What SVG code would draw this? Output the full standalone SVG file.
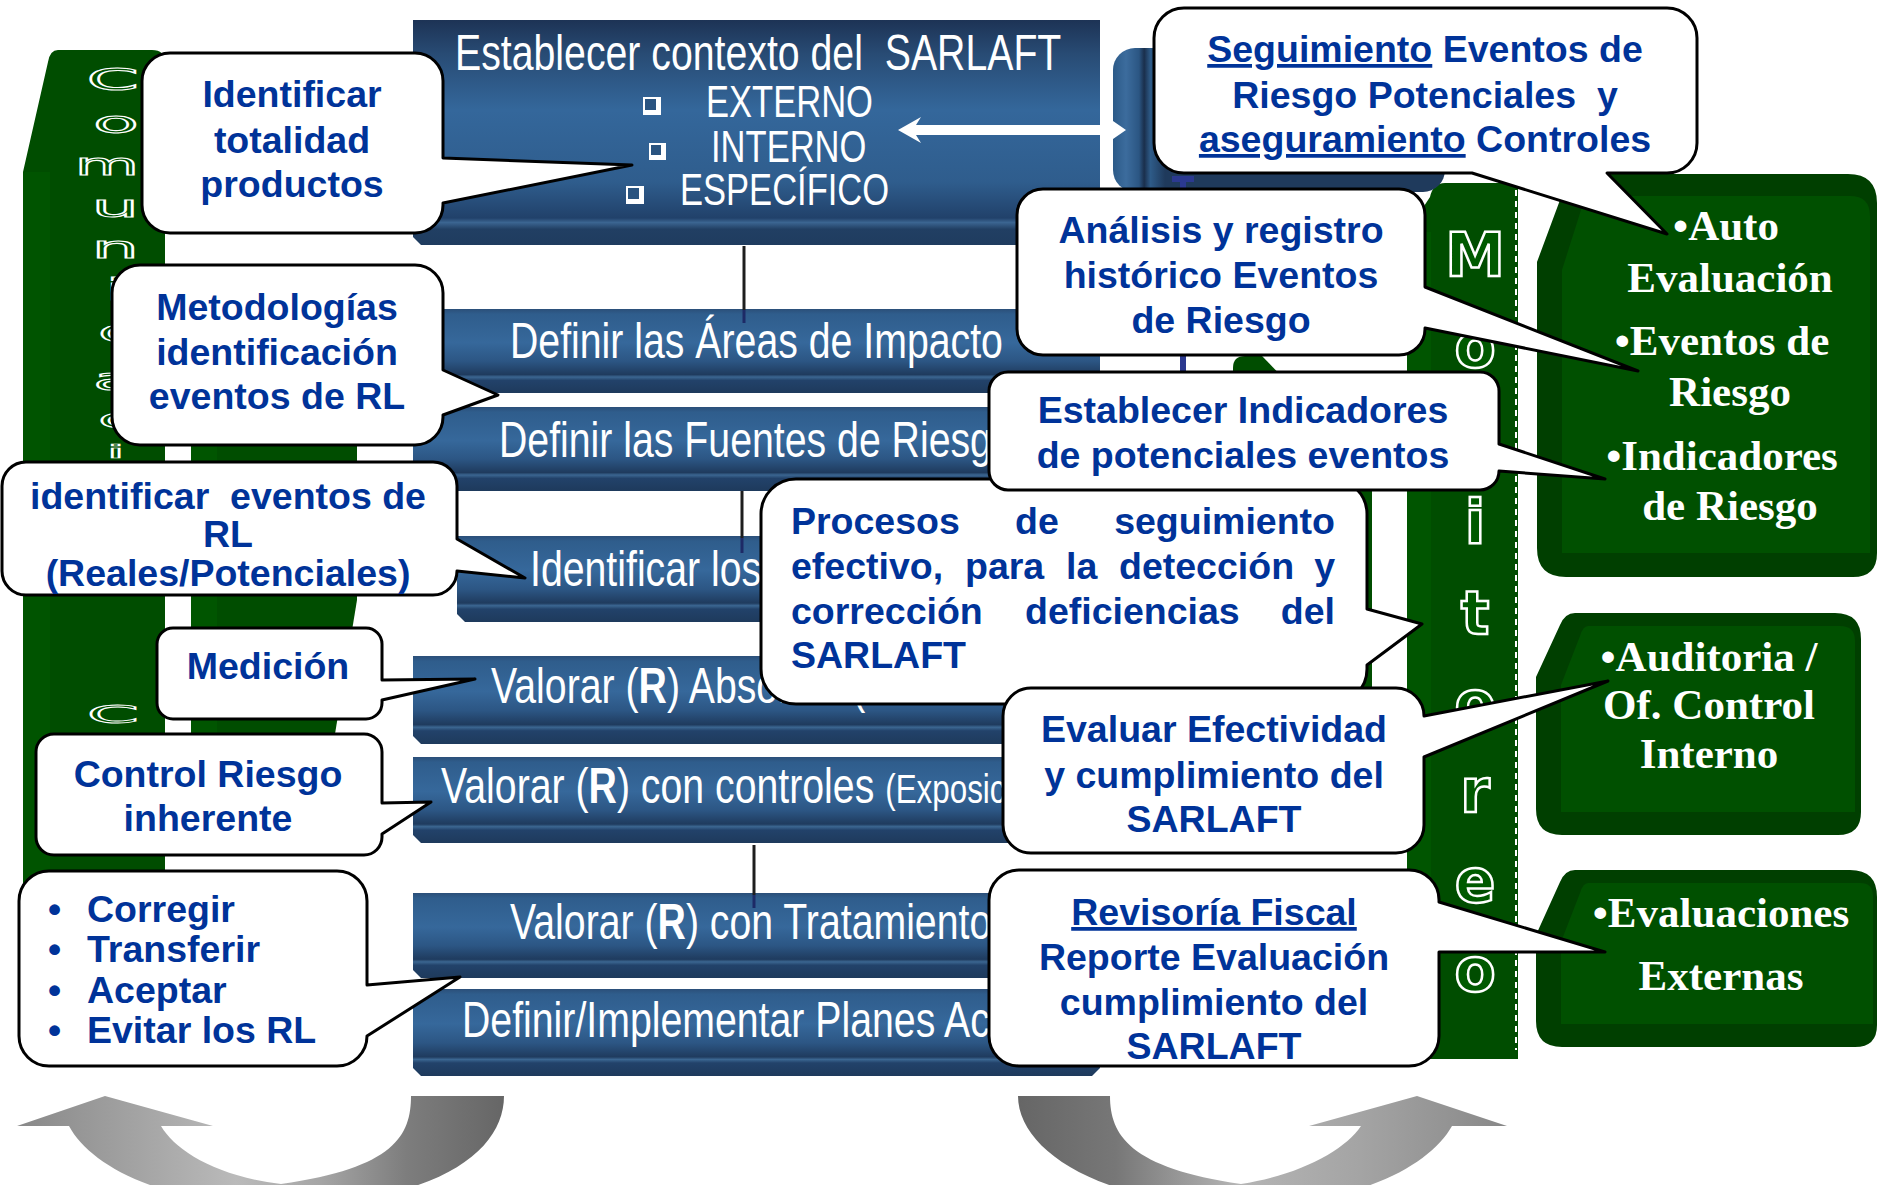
<svg xmlns="http://www.w3.org/2000/svg" width="1877" height="1185" viewBox="0 0 1877 1185">
<defs>
  <linearGradient id="barG" x1="0" y1="0" x2="0" y2="1">
    <stop offset="0" stop-color="#2b4f79"/>
    <stop offset="0.06" stop-color="#2f5d8c"/>
    <stop offset="0.4" stop-color="#36689b"/>
    <stop offset="0.62" stop-color="#2c5684"/>
    <stop offset="0.78" stop-color="#1f3b5e"/>
    <stop offset="0.81" stop-color="#3b6691"/>
    <stop offset="0.85" stop-color="#22426a"/>
    <stop offset="1" stop-color="#1e3a5c"/>
  </linearGradient>
  <linearGradient id="topG" x1="0" y1="0" x2="0" y2="1">
    <stop offset="0" stop-color="#1d3355"/>
    <stop offset="0.15" stop-color="#284b74"/>
    <stop offset="0.4" stop-color="#34679b"/>
    <stop offset="0.72" stop-color="#2f5d8d"/>
    <stop offset="0.88" stop-color="#21416a"/>
    <stop offset="0.9" stop-color="#3b6591"/>
    <stop offset="0.93" stop-color="#213f63"/>
    <stop offset="1" stop-color="#1f3c5f"/>
  </linearGradient>
  <linearGradient id="blueSide" gradientUnits="userSpaceOnUse" x1="1113" y1="0" x2="1165" y2="0">
    <stop offset="0" stop-color="#2c5a88"/>
    <stop offset="0.25" stop-color="#3c6c9d"/>
    <stop offset="0.5" stop-color="#2b5683"/>
    <stop offset="0.6" stop-color="#1a2f4c"/>
    <stop offset="0.72" stop-color="#2e5b88"/>
    <stop offset="1" stop-color="#1f3a5c"/>
  </linearGradient>
  <linearGradient id="arrL" gradientUnits="userSpaceOnUse" x1="17" y1="0" x2="504" y2="0">
    <stop offset="0" stop-color="#888"/>
    <stop offset="0.45" stop-color="#bababa"/>
    <stop offset="0.62" stop-color="#a6a6a6"/>
    <stop offset="0.8" stop-color="#7d7d7d"/>
    <stop offset="1" stop-color="#666"/>
  </linearGradient>
  <linearGradient id="arrR" gradientUnits="userSpaceOnUse" x1="1018" y1="0" x2="1507" y2="0">
    <stop offset="0" stop-color="#666"/>
    <stop offset="0.2" stop-color="#777"/>
    <stop offset="0.45" stop-color="#b5b5b5"/>
    <stop offset="0.7" stop-color="#a4a4a4"/>
    <stop offset="1" stop-color="#888"/>
  </linearGradient>
</defs>
<style>
  .co { fill:#fff; stroke:#000; stroke-width:3; stroke-linejoin:round; }
  .ct { font-family:"Liberation Sans", Arial, sans-serif; font-weight:bold; font-size:37.5px; fill:#003399; text-anchor:middle; }
  .cj { font-family:"Liberation Sans", Arial, sans-serif; font-weight:bold; font-size:37.5px; fill:#003399; }
  .cb { font-family:"Liberation Sans", Arial, sans-serif; font-weight:bold; font-size:37.5px; fill:#003399; }
  .bt { font-family:"Liberation Sans", Arial, sans-serif; font-size:50px; fill:#fff; }
  .bs { font-family:"Liberation Sans", Arial, sans-serif; font-size:44px; fill:#fff; }
  .gt { font-family:"Liberation Serif", "Times New Roman", serif; font-weight:bold; font-size:43px; fill:#fff; text-anchor:middle; }
  .ml { font-family:"DejaVu Sans", Verdana, sans-serif; font-weight:bold; font-size:60px; fill:#005a00; stroke:#fff; stroke-width:2.5; text-anchor:middle; }
  .cl { font-family:"DejaVu Sans", Verdana, sans-serif; font-size:30px; fill:#005000; stroke:#fff; stroke-width:1.1; text-anchor:end; vector-effect:non-scaling-stroke; }
  .gOut { fill:#003f00; }
  .gIn { fill:#005000; }
  .boxW { fill:#fff; }
  .boxD { fill:#2a5480; }
</style>

<rect width="1877" height="1185" fill="#fff"/>

<!-- background green columns -->
<g id="comunicacion-column">
  <path d="M58,50 H152 Q165,50 165,63 V905 H23 V172 L48,62 Q50,50 58,50 Z" fill="#004d00"/>
  <rect x="23" y="172" width="27" height="733" fill="#005400"/>
  <path d="M191,272 H357 V600 L334,740 H191 Z" fill="#004d00"/>
  <rect x="191" y="272" width="26" height="468" fill="#005500"/>
  <g class="cl">
    <text transform="translate(139,90) scale(2.5,1)">C</text>
    <text transform="translate(139,133) scale(2.5,1)">o</text>
    <text transform="translate(139,175) scale(2.2,1)">m</text>
    <text transform="translate(139,217) scale(2.5,1)">u</text>
    <text transform="translate(139,258) scale(2.5,1)">n</text>
    <text transform="translate(126,300) scale(2.5,1)">i</text>
    <text transform="translate(139,342) scale(2.5,1)">c</text>
    <text transform="translate(139,390) scale(2.5,1)">a</text>
    <text transform="translate(139,428) scale(2.5,0.9)">c</text>
    <text transform="translate(126,458) scale(2.5,0.6)">i</text>
    <text transform="translate(139,723) scale(2.5,0.8)">C</text>
  </g>
</g>

<g id="monitoreo-column">
  <path d="M1245,356 H1262 L1372,470 V700 H1233 V368 Q1233,356 1245,356 Z" fill="#004d00"/>
  <path d="M1445,183 H1518 V1059 H1407 V232 L1430,197 Q1433,183 1445,183 Z" fill="#004d00"/>
  <rect x="1407" y="232" width="24" height="827" fill="#005500"/>
  <line x1="1516" y1="190" x2="1516" y2="1050" stroke="#fff" stroke-width="2" stroke-dasharray="6 5"/>
  <g class="ml">
    <text x="1475" y="276">M</text>
    <text x="1475" y="367">o</text>
    <text x="1475" y="455">n</text>
    <text x="1475" y="543">i</text>
    <text x="1475" y="634">t</text>
    <text x="1475" y="724">o</text>
    <text x="1475" y="812">r</text>
    <text x="1475" y="902">e</text>
    <text x="1475" y="991">o</text>
  </g>
</g>

<!-- green result boxes on the right -->
<g id="box-autoevaluacion">
  <path class="gOut" d="M1575,174 H1848 Q1877,174 1877,203 V553 Q1877,577 1853,577 H1566 Q1537,577 1537,548 V262 L1560,200 Q1566,174 1575,174 Z"/>
  <path class="gIn" d="M1592,196 H1850 Q1870,196 1870,216 V553 H1562 V270 L1581,210 Q1585,196 1592,196 Z"/>
</g>
<g id="box-auditoria">
  <path class="gOut" d="M1575,613 H1835 Q1861,613 1861,639 V812 Q1861,835 1838,835 H1562 Q1536,835 1536,809 V677 L1560,625 Q1565,613 1575,613 Z"/>
  <path class="gIn" d="M1588,626 H1840 Q1855,626 1855,641 V812 H1561 V685 L1580,636 Q1583,626 1588,626 Z"/>
</g>
<g id="box-evaluaciones">
  <path class="gOut" d="M1575,870 H1850 Q1877,870 1877,897 V1025 Q1877,1047 1855,1047 H1562 Q1536,1047 1536,1021 V935 L1560,882 Q1565,870 1575,870 Z"/>
  <path class="gIn" d="M1588,883 H1860 Q1873,883 1873,896 V1024 H1561 V942 L1580,893 Q1583,883 1588,883 Z"/>
</g>

<!-- blue slab behind the follow-up callout -->
<g id="seguimiento-slab">
  <rect x="1113" y="48" width="332" height="144" rx="22" fill="url(#blueSide)"/>
</g>

<!-- process steps -->
<g id="step-contexto">
  <path d="M413,20 H1100 V237 L1092,245 H421 L413,237 Z" fill="url(#topG)"/>
  <text class="bt" transform="translate(455,70) scale(0.785,1)">Establecer contexto del&#160; SARLAFT</text>
  <rect class="boxW" x="643" y="97" width="18" height="18"/>
  <rect class="boxD" x="645" y="99" width="11" height="11"/>
  <text class="bs" transform="translate(706,117) scale(0.785,1)">EXTERNO</text>
  <rect class="boxW" x="649" y="143" width="17" height="17"/>
  <rect class="boxD" x="651" y="145" width="10" height="10"/>
  <text class="bs" transform="translate(711,162) scale(0.785,1)">INTERNO</text>
  <rect class="boxW" x="626" y="186" width="18" height="18"/>
  <rect class="boxD" x="628" y="188" width="11" height="11"/>
  <text class="bs" transform="translate(680,205) scale(0.785,1)">ESPECÍFICO</text>
</g>
<g id="step-areas">
  <path d="M413,309 H1100 V385 L1092,393 H421 L413,385 Z" fill="url(#barG)"/>
  <text class="bt" transform="translate(510,358) scale(0.785,1)">Definir las Áreas de Impacto</text>
</g>
<g id="step-fuentes">
  <path d="M413,407 H1100 V483 L1092,491 H421 L413,483 Z" fill="url(#barG)"/>
  <text class="bt" transform="translate(499,457) scale(0.785,1)">Definir las Fuentes de Riesgo</text>
</g>
<g id="step-identificar">
  <path d="M457,536 H1100 V614 L1092,622 H465 L457,614 Z" fill="url(#barG)"/>
  <text class="bt" transform="translate(530,586) scale(0.785,1)">Identificar los</text>
</g>
<g id="step-absoluto">
  <path d="M413,656 H1100 V736 L1092,744 H421 L413,736 Z" fill="url(#barG)"/>
  <text class="bt" transform="translate(491,703) scale(0.785,1)">Valorar (<tspan font-weight="bold">R</tspan>) Absoluto (</text>
</g>
<g id="step-controles">
  <path d="M413,757 H1100 V835 L1092,843 H421 L413,835 Z" fill="url(#barG)"/>
  <text class="bt" transform="translate(441,803) scale(0.785,1)">Valorar (<tspan font-weight="bold">R</tspan>) con controles <tspan font-size="40">(Exposición)</tspan></text>
</g>
<g id="step-tratamiento">
  <path d="M413,893 H1100 V970 L1092,978 H421 L413,970 Z" fill="url(#barG)"/>
  <text class="bt" transform="translate(510,939) scale(0.785,1)">Valorar (<tspan font-weight="bold">R</tspan>) con Tratamiento</text>
</g>
<g id="step-planes">
  <path d="M413,989 H1100 V1068 L1092,1076 H421 L413,1068 Z" fill="url(#barG)"/>
  <text class="bt" transform="translate(462,1037) scale(0.785,1)">Definir/Implementar Planes Acción</text>
</g>

<!-- connectors -->
<g id="connectors">
  <line x1="744" y1="246" x2="744" y2="310" stroke="#1e1e1e" stroke-width="3"/>
  <line x1="744" y1="310" x2="744" y2="323" stroke="#1d2a66" stroke-width="3"/>
  <line x1="742" y1="491" x2="742" y2="538" stroke="#1e1e1e" stroke-width="3"/>
  <line x1="742" y1="538" x2="742" y2="553" stroke="#1d2a66" stroke-width="3"/>
  <line x1="754" y1="845" x2="754" y2="895" stroke="#1e1e1e" stroke-width="3"/>
  <line x1="754" y1="895" x2="754" y2="908" stroke="#1d2a66" stroke-width="3"/>
  <path d="M1172,176 H1194 V182 H1186 V380 H1180 V182 H1172 Z" fill="#2b3990"/>
  <path d="M898,130 L921,117 L916,125 H1113 V121 L1126,130 L1113,139 V135 H916 L921,143 Z" fill="#fff"/>
  <path d="M411,1096 H504 C504,1150 440,1203 281,1205 C160,1205 90,1165 69,1126 H17 L105,1096 L213,1126 H161 C175,1150 215,1176 281,1184 C395,1168 411,1135 411,1096 Z" fill="url(#arrL)"/>
  <path d="M1018,1096 H1110 C1110,1135 1130,1168 1241,1184 C1300,1175 1345,1150 1361,1126 H1309 L1417,1096 L1507,1126 H1452 C1430,1165 1360,1205 1241,1205 C1100,1205 1018,1150 1018,1096 Z" fill="url(#arrR)"/>
</g>

<!-- callouts -->
<g id="callout-procesos">
  <path class="co" d="M796,479 H1332 A35 35 0 0 1 1367,514 V609 L1422,624 L1367,665 V669 A35 35 0 0 1 1332,704 H796 A35 35 0 0 1 761,669 V514 A35 35 0 0 1 796,479 Z"/>
  <text class="cj" y="534"><tspan x="791">Procesos</tspan><tspan x="1015">de</tspan><tspan x="1335" text-anchor="end">seguimiento</tspan></text>
  <text class="cj" y="579"><tspan x="791">efectivo,</tspan><tspan x="965">para</tspan><tspan x="1066">la</tspan><tspan x="1119">detección</tspan><tspan x="1335" text-anchor="end">y</tspan></text>
  <text class="cj" y="624"><tspan x="791">corrección</tspan><tspan x="1025">deficiencias</tspan><tspan x="1335" text-anchor="end">del</tspan></text>
  <text class="cj" x="791" y="668">SARLAFT</text>
</g>
<g id="callout-indicadores">
  <path class="co" d="M1008,372 H1480 A19 19 0 0 1 1499,391 V444 L1605,479 L1499,471 A19 19 0 0 1 1480,490 H1008 A19 19 0 0 1 989,471 V391 A19 19 0 0 1 1008,372 Z"/>
  <text class="ct" x="1243" y="423">Establecer Indicadores</text>
  <text class="ct" x="1243" y="468">de potenciales eventos</text>
</g>
<g id="callout-evaluar">
  <path class="co" d="M1031,688 H1396 A28 28 0 0 1 1424,716 L1608,681 L1424,757 V825 A28 28 0 0 1 1396,853 H1031 A28 28 0 0 1 1003,825 V716 A28 28 0 0 1 1031,688 Z"/>
  <text class="ct" x="1214" y="742">Evaluar Efectividad</text>
  <text class="ct" x="1214" y="788">y cumplimiento del</text>
  <text class="ct" x="1214" y="832">SARLAFT</text>
</g>
<g id="callout-productos">
  <path class="co" d="M170,53 H415 A28 28 0 0 1 443,81 V158 L632,165 L443,203 V205 A28 28 0 0 1 415,233 H170 A28 28 0 0 1 142,205 V81 A28 28 0 0 1 170,53 Z"/>
  <text class="ct" x="292" y="107">Identificar</text>
  <text class="ct" x="292" y="153">totalidad</text>
  <text class="ct" x="292" y="197">productos</text>
</g>
<g id="callout-metodologias">
  <path class="co" d="M140,265 H415 A28 28 0 0 1 443,293 V370 L498,395 L443,415 V417 A28 28 0 0 1 415,445 H140 A28 28 0 0 1 112,417 V293 A28 28 0 0 1 140,265 Z"/>
  <text class="ct" x="277" y="320">Metodologías</text>
  <text class="ct" x="277" y="365">identificación</text>
  <text class="ct" x="277" y="409">eventos de RL</text>
</g>
<g id="callout-identificar">
  <path class="co" d="M26,462 H433 A24 24 0 0 1 457,486 V539 L525,578 L457,571 A24 24 0 0 1 433,595 H26 A24 24 0 0 1 2,571 V486 A24 24 0 0 1 26,462 Z"/>
  <text class="ct" x="228" y="509" xml:space="preserve">identificar  eventos de</text>
  <text class="ct" x="228" y="547">RL</text>
  <text class="ct" x="228" y="586">(Reales/Potenciales)</text>
</g>
<g id="callout-medicion">
  <path class="co" d="M173,628 H366 A16 16 0 0 1 382,644 V680 L475,679 L382,700 V703 A16 16 0 0 1 366,719 H173 A16 16 0 0 1 157,703 V644 A16 16 0 0 1 173,628 Z"/>
  <text class="ct" x="268" y="679">Medición</text>
</g>
<g id="callout-control">
  <path class="co" d="M54,734 H364 A18 18 0 0 1 382,752 V803 L431,802 L382,834 V837 A18 18 0 0 1 364,855 H54 A18 18 0 0 1 36,837 V752 A18 18 0 0 1 54,734 Z"/>
  <text class="ct" x="208" y="787">Control Riesgo</text>
  <text class="ct" x="208" y="831">inherente</text>
</g>
<g id="callout-tratamientos">
  <path class="co" d="M49,871 H337 A30 30 0 0 1 367,901 V985 L460,977 L367,1036 A30 30 0 0 1 337,1066 H49 A30 30 0 0 1 19,1036 V901 A30 30 0 0 1 49,871 Z"/>
  <text class="cb" x="48" y="922">•</text><text class="cb" x="87" y="922">Corregir</text>
  <text class="cb" x="48" y="962">•</text><text class="cb" x="87" y="962">Transferir</text>
  <text class="cb" x="48" y="1003">•</text><text class="cb" x="87" y="1003">Aceptar</text>
  <text class="cb" x="48" y="1043">•</text><text class="cb" x="87" y="1043">Evitar los RL</text>
</g>
<g id="callout-seguimiento">
  <path class="co" d="M1184,8 H1667 A30 30 0 0 1 1697,38 V143 A30 30 0 0 1 1667,173 H1607 L1667,234 L1472,173 H1184 A30 30 0 0 1 1154,143 V38 A30 30 0 0 1 1184,8 Z"/>
  <text class="ct" x="1425" y="62"><tspan text-decoration="underline">Seguimiento</tspan> Eventos de</text>
  <text class="ct" x="1425" y="108" xml:space="preserve">Riesgo Potenciales  y</text>
  <text class="ct" x="1425" y="152"><tspan text-decoration="underline">aseguramiento</tspan> Controles</text>
</g>
<g id="callout-analisis">
  <path class="co" d="M1043,189 H1399 A26 26 0 0 1 1425,215 V287 L1638,371 L1425,328 V329 A26 26 0 0 1 1399,355 H1043 A26 26 0 0 1 1017,329 V215 A26 26 0 0 1 1043,189 Z"/>
  <text class="ct" x="1221" y="243">Análisis y registro</text>
  <text class="ct" x="1221" y="288">histórico Eventos</text>
  <text class="ct" x="1221" y="333">de Riesgo</text>
</g>
<g id="callout-revisoria">
  <path class="co" d="M1019,870 H1409 A30 30 0 0 1 1439,900 V902 L1605,952 L1439,952 V1036 A30 30 0 0 1 1409,1066 H1019 A30 30 0 0 1 989,1036 V900 A30 30 0 0 1 1019,870 Z"/>
  <text class="ct" x="1214" y="925"><tspan text-decoration="underline">Revisoría Fiscal</tspan></text>
  <text class="ct" x="1214" y="970">Reporte Evaluación</text>
  <text class="ct" x="1214" y="1015">cumplimiento del</text>
  <text class="ct" x="1214" y="1059">SARLAFT</text>
</g>

<!-- labels of the green boxes -->
<g id="labels-green">
  <text class="gt" x="1726" y="240">•Auto</text>
  <text class="gt" x="1730" y="292">Evaluación</text>
  <text class="gt" x="1722" y="355">•Eventos de</text>
  <text class="gt" x="1730" y="406">Riesgo</text>
  <text class="gt" x="1722" y="470">•Indicadores</text>
  <text class="gt" x="1730" y="520">de Riesgo</text>
  <text class="gt" x="1709" y="671">•Auditoria /</text>
  <text class="gt" x="1709" y="719">Of. Control</text>
  <text class="gt" x="1709" y="768">Interno</text>
  <text class="gt" x="1721" y="927">•Evaluaciones</text>
  <text class="gt" x="1721" y="990">Externas</text>
</g>
</svg>
